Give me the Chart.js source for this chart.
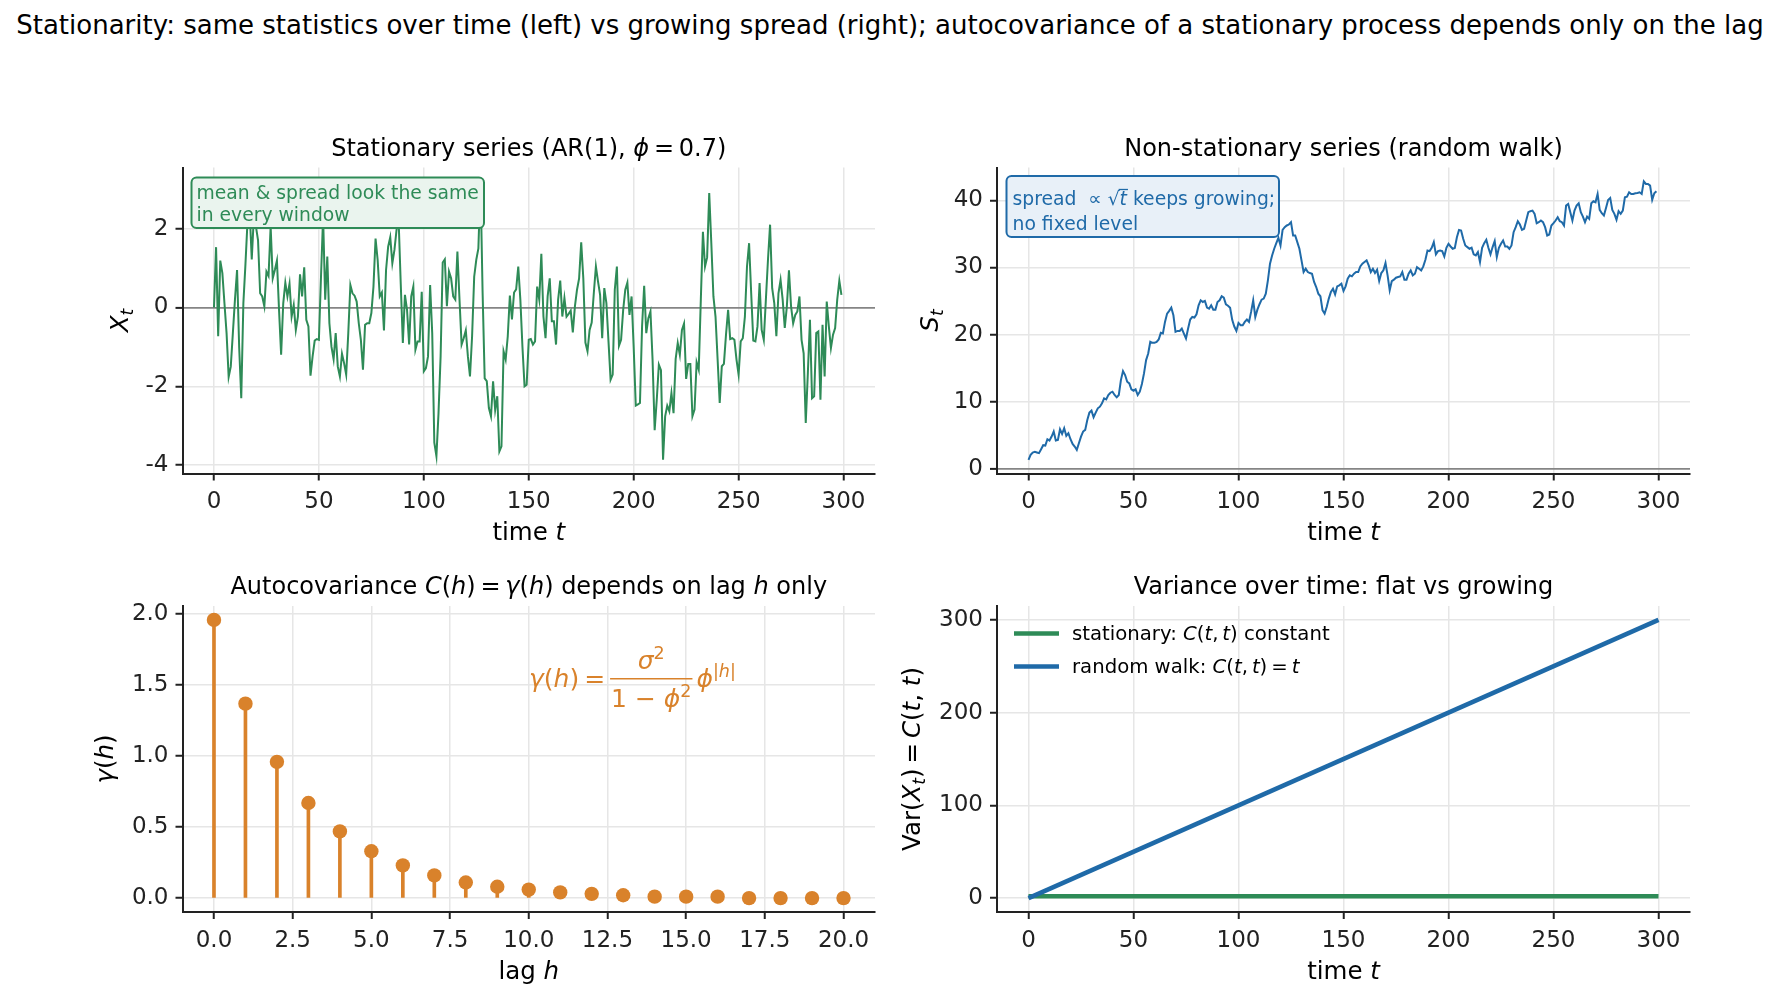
<!DOCTYPE html>
<html>
<head>
<meta charset="utf-8">
<script src="https://cdn.jsdelivr.net/npm/chart.js@4.4.1/dist/chart.umd.min.js"></script>
<style>
  html, body { margin: 0; padding: 0; background: #fff; }
  #fig { position: relative; width: 1780px; height: 1002px; overflow: hidden; background: #fff; }
  #fig canvas { position: absolute; left: 0; top: 0; }
  #suptitle { position: absolute; left: 0; top: 8px; width: 1780px; text-align: center;
              font: 26px "DejaVu Sans", sans-serif; line-height: 34px; color: #000; white-space: nowrap; }
</style>
</head>
<body>
<div id="fig">
  <div id="suptitle">Stationarity: same statistics over time (left) vs growing spread (right); autocovariance of a stationary process depends only on the lag</div>
  <canvas id="cAR" width="1780" height="1002"></canvas>
  <canvas id="cWalk" width="1780" height="1002"></canvas>
  <canvas id="cAcov" width="1780" height="1002"></canvas>
  <canvas id="cVar" width="1780" height="1002"></canvas>
</div>
<script>
// ---- data ----
// AR(1) series, t = 0..299
const arSeries = [
  0.0, 1.53, -0.73, 1.19, 0.87, 0.1, -0.65, -1.76, -1.5, -0.65,
  0.2, 0.95, -1.0, -2.3, 0.1, 1.1, 2.2, 2.45, 1.22, 2.3,
  2.05, 1.7, 0.36, 0.28, 0.03, 0.91, 0.8, 2.05, 0.74, 0.95,
  1.19, -0.06, -1.2, 0.1, 0.63, 0.28, 0.6, -0.23, 0.06, -0.57,
  -0.23, 0.84, 0.28, 1.02, -0.31, -0.48, -1.73, -1.24, -0.84, -0.8,
  -0.82, 0.78, 2.3, 0.2, 1.29, -0.4, -1.0, -1.31, -0.65, -1.5,
  -1.75, -1.17, -1.41, -1.7, -0.65, 0.57, 0.36, 0.3, 0.15, -0.4,
  -0.82, -1.58, -0.44, -0.4, -0.4, -0.14, 0.53, 1.75, 1.2, 0.28,
  0.38, -0.58, 0.95, 1.54, 1.78, 1.12, 1.46, 1.97, 2.2, 0.6,
  -0.9, 0.32, -0.06, -0.94, 0.28, 0.53, -1.07, -0.86, -0.86, 0.4,
  -1.62, -1.54, -1.24, 0.57, -0.65, -3.43, -3.77, -2.68, -1.24, 1.14,
  1.22, 0.03, 0.91, 0.74, 0.28, 0.2, 1.42, 0.2, -0.94, -0.78,
  -0.58, -1.24, -1.75, -0.73, 0.78, 1.21, 1.5, 3.2, 0.4, -1.8,
  -1.87, -2.55, -2.76, -1.87, -2.6, -2.25, -3.65, -3.52, -1.11, -1.32,
  -0.73, 0.3, -0.3, 0.38, 0.46, 1.04, 0.2, -1.0, -2.0, -1.96,
  -0.82, -0.8, -0.94, -0.86, 0.53, 0.2, 1.36, -0.23, -0.78, 0.28,
  0.74, -0.35, -0.35, -0.94, 0.2, 0.68, -0.23, 0.24, -0.23, -0.16,
  -0.08, -0.63, 0.03, 0.45, 0.74, 1.65, 0.74, -0.89, -1.11, -0.57,
  -0.38, 0.36, 1.04, 0.66, 0.32, -0.78, 0.49, 0.11, -0.86, -1.83,
  -1.7, 0.45, 1.04, -0.97, -0.82, -0.06, 0.45, 0.63, -0.19, 0.28,
  -1.0, -2.49, -2.46, -2.42, -0.48, 0.55, -0.65, -0.27, -0.1, -1.32,
  -3.11, -2.34, -1.45, -1.59, -3.86, -2.76, -2.49, -2.63, -2.17, -2.68,
  -1.31, -0.9, -1.2, -0.57, -0.41, -1.81, -1.43, -1.43, -2.76, -2.59,
  -1.39, -1.58, 0.2, 1.92, 1.04, 1.27, 2.9, 1.63, 0.28, -0.23,
  -1.32, -2.42, -1.49, -1.43, -0.69, -0.06, -0.8, -0.78, -0.82, -1.32,
  -1.7, -0.86, -0.78, -0.23, 1.04, 1.63, 0.36, -0.84, -0.86, -0.48,
  0.62, -0.57, -0.82, 0.2, 1.21, 2.1, 0.49, 0.11, -0.73, 0.36,
  0.7, 0.2, -0.52, 0.03, 0.94, 0.03, -0.4, -0.19, -0.1, 0.28,
  -0.82, -1.16, -2.93, -1.66, -0.31, -2.3, -2.25, -0.65, -0.61, -2.34,
  -0.44, -1.75, 0.15, -0.48, -1.03, -0.69, -0.52, 0.2, 0.68, 0.32
];

// random walk, t = 0..299
const walkSeries = [
  1.34, 2.08, 2.43, 2.53, 2.43, 2.33, 2.92, 3.52, 3.47, 4.41,
  4.21, 4.8, 5.55, 4.21, 4.31, 5.89, 5.2, 6.04, 4.9, 5.3,
  4.41, 3.71, 3.32, 2.82, 3.81, 4.8, 5.55, 5.8, 7.28, 8.37,
  8.67, 7.68, 8.37, 9.01, 9.26, 9.76, 10.5, 10.35, 11.0, 11.34,
  11.49, 11.0, 10.65, 11.0, 13.22, 14.56, 13.97, 12.98, 12.73, 11.84,
  11.64, 11.84, 11.0, 11.49, 12.63, 14.21, 16.2, 17.19, 18.92, 18.77,
  18.77, 18.92, 19.27, 20.26, 20.16, 21.89, 23.13, 23.53, 24.02, 22.88,
  20.41, 20.55, 20.55, 20.9, 20.16, 19.42, 20.9, 22.24, 22.63, 22.54,
  23.03, 24.37, 25.11, 24.86, 25.01, 24.02, 23.87, 24.37, 23.72, 23.72,
  24.86, 25.11, 25.71, 25.51, 24.5, 24.3, 24.0, 22.2, 21.2, 20.55,
  21.74, 21.4, 21.4, 21.89, 22.24, 21.89, 23.38, 25.11, 22.63, 23.72,
  24.52, 25.21, 25.36, 26.1, 28.08, 30.56, 31.8, 32.79, 33.63, 34.42,
  33.28, 35.61, 36.0, 36.26, 36.4, 36.75, 34.77, 34.77, 33.78, 32.79,
  31.05, 29.32, 29.82, 29.32, 29.17, 29.07, 27.84, 27.09, 26.1, 25.71,
  23.63, 23.13, 24.12, 25.36, 26.35, 26.84, 26.0, 27.19, 27.34, 27.59,
  26.5, 27.19, 28.33, 28.83, 28.68, 29.07, 29.32, 29.32, 30.16, 30.56,
  30.81, 31.05, 30.31, 29.32, 29.82, 29.17, 29.67, 27.98, 29.17, 29.57,
  30.66, 28.83, 26.6, 27.98, 28.18, 28.48, 28.58, 28.68, 29.32, 28.18,
  28.18, 29.07, 29.57, 28.83, 29.07, 30.06, 29.82, 29.57, 30.16, 31.15,
  32.54, 32.44, 32.94, 33.78, 31.95, 32.44, 32.54, 32.44, 31.65, 32.94,
  33.53, 33.13, 32.79, 32.9, 34.5, 35.6, 35.5, 34.27, 33.28, 33.04,
  32.79, 32.94, 31.95, 31.8, 32.29, 30.81, 32.94, 33.63, 34.13, 32.94,
  31.95, 33.04, 33.93, 31.55, 32.94, 33.53, 34.03, 33.13, 33.13, 32.79,
  33.28, 35.26, 36.01, 36.9, 36.4, 35.61, 35.76, 37.0, 38.24, 38.39,
  38.48, 37.99, 36.6, 36.75, 37.0, 36.75, 36.01, 34.77, 34.92, 36.26,
  36.6, 37.0, 37.49, 36.9, 36.75, 36.26, 39.23, 39.47, 38.24, 37.0,
  38.48, 39.23, 39.57, 38.24, 37.59, 36.75, 37.59, 37.25, 39.57, 39.87,
  39.72, 40.96, 38.58, 38.09, 37.74, 38.88, 40.07, 40.37, 38.58, 37.99,
  37.1, 38.39, 37.99, 38.48, 40.47, 40.56, 41.21, 40.96, 40.96, 41.06,
  41.11, 41.21, 40.96, 42.84, 42.45, 42.45, 42.2, 40.07, 41.06, 41.36
];

// autocovariance by lag
const lags = [0, 1, 2, 3, 4, 5, 6, 7, 8, 9, 10, 11, 12, 13, 14, 15, 16, 17, 18, 19, 20];
const gammaValues = [1.96, 1.37, 0.96, 0.67, 0.47, 0.33, 0.23, 0.16, 0.11, 0.08, 0.06,
                     0.04, 0.03, 0.02, 0.01, 0.01, 0.01, 0.00, 0.00, 0.00, 0.00];

// variance over time (end points of the two straight lines)
const varTimes = [0, 300];
const statVar = [1.96, 1.96];
const walkVar = [0, 300];

// tick steps
const timeStep = 50, arStep = 2, walkStep = 10, lagStep = 2.5, gammaStep = 0.5, varStep = 100;

// ---- styling ----
const FF = '"DejaVu Sans", "Liberation Sans", sans-serif';
const INK = '#222222';
const GRID = '#e6e6e6';
const ZERO = '#858585';
const GREEN = '#2e8b57';
const BLUE = '#1f6aa8';
const ORANGE = '#d9822b';
const FIG_W = 1780, FIG_H = 1002, Y_W = 110, X_H = 60;
const TH = '\u2009'; // thin space, mathtext-like spacing around "=" and after ","

Chart.defaults.font.family = FF;
Chart.defaults.color = INK;

// plot boxes in figure pixels
const boxTL = {l: 182.5, r: 875, t: 167.5, b: 473.5};
const boxTR = {l: 997, r: 1690, t: 167.5, b: 473.5};
const boxBL = {l: 182.5, r: 875, t: 606, b: 912};
const boxBR = {l: 997, r: 1690, t: 606, b: 912};

// ---- rich text helpers (mathtext-like italics / sub / sup) ----
function fnt(size, italic) { return (italic ? 'italic ' : '') + size + 'px ' + FF; }
const N = t => ({t: t, it: false, k: 1, dy: 0});
const I = t => ({t: t, it: true, k: 1, dy: 0});
const SUB = t => ({t: t, it: true, k: 0.7, dy: 0.22});
const SUP = (t, it) => ({t: t, it: !!it, k: 0.7, dy: -0.42});

function richWidth(ctx, parts, size) {
  let w = 0;
  parts.forEach(p => { ctx.font = fnt(size * p.k, p.it); w += ctx.measureText(p.t).width; });
  return w;
}

function drawRich(ctx, parts, x, y, size, color, align, rot) {
  ctx.save();
  ctx.translate(x, y);
  if (rot) ctx.rotate(rot);
  ctx.fillStyle = color;
  ctx.textBaseline = 'alphabetic';
  ctx.textAlign = 'left';
  const w = richWidth(ctx, parts, size);
  let cx = align === 'center' ? -w / 2 : (align === 'right' ? -w : 0);
  parts.forEach(p => {
    ctx.font = fnt(size * p.k, p.it);
    ctx.fillText(p.t, cx, p.dy * size);
    cx += ctx.measureText(p.t).width;
  });
  ctx.restore();
  return w;
}

function roundBox(ctx, x, y, w, h, r, fill, stroke) {
  ctx.save();
  ctx.beginPath();
  ctx.roundRect(x, y, w, h, r);
  ctx.fillStyle = fill;
  ctx.fill();
  ctx.lineWidth = 2;
  ctx.strokeStyle = stroke;
  ctx.stroke();
  ctx.restore();
}

// ---- shared axis / chart options ----
function axis(which, s) {
  const zeroLine = !!s.zeroLine;
  return {
    type: 'linear',
    min: s.min,
    max: s.max,
    offset: false,
    afterFit: which === 'x' ? (sc => { sc.height = X_H; }) : (sc => { sc.width = Y_W; }),
    border: {display: true, color: INK, width: 2},
    grid: {
      offset: false,
      color: c => (zeroLine && c.tick && c.tick.value === 0) ? ZERO : GRID,
      lineWidth: c => (zeroLine && c.tick && c.tick.value === 0) ? 1.8 : 1.5,
      drawTicks: true, tickColor: INK, tickLength: 7, tickWidth: 2
    },
    ticks: {
      stepSize: s.step, includeBounds: false, autoSkip: false, maxRotation: 0, minRotation: 0,
      padding: which === 'x' ? 8 : 7, color: INK, font: {size: 23, family: FF},
      callback: s.fmt || (v => String(v))
    }
  };
}

function options(box, xs, ys) {
  return {
    responsive: false,
    animation: false,
    devicePixelRatio: 1,
    layout: {padding: {left: box.l - Y_W, top: box.t, right: FIG_W - box.r, bottom: FIG_H - box.b - X_H}},
    plugins: {legend: {display: false}, tooltip: {enabled: false}, title: {display: false}},
    scales: {x: axis('x', xs), y: axis('y', ys)}
  };
}

function labels(title, xlab, ylab, ylabX, titleY, xlabY) {
  return {
    id: 'labels',
    afterDraw(chart) {
      const ctx = chart.ctx, a = chart.chartArea;
      const cx = (a.left + a.right) / 2, cy = (a.top + a.bottom) / 2;
      drawRich(ctx, title, cx, titleY, 24, '#000', 'center');
      drawRich(ctx, xlab, cx, xlabY, 24.5, '#000', 'center');
      drawRich(ctx, ylab, ylabX, cy, 24.5, '#000', 'center', -Math.PI / 2);
    }
  };
}

// ---- top-left: stationary AR(1) ----
new Chart(document.getElementById('cAR'), {
  type: 'line',
  data: {datasets: [{
    data: arSeries.map((v, i) => ({x: i, y: v})),
    borderColor: GREEN, borderWidth: 2, pointRadius: 0, tension: 0, fill: false
  }]},
  options: options(boxTL,
    {min: -15, max: 315, step: timeStep},
    {min: -4.21, max: 3.55, step: arStep, zeroLine: true}),
  plugins: [labels(
    [N('Stationary series (AR(1), '), I('ϕ'), N(TH + '=' + TH + '0.7)')],
    [N('time '), I('t')],
    [I('X'), SUB('t')], 128, 155.5, 540),
  {
    id: 'noteAR',
    afterDraw(chart) {
      const ctx = chart.ctx;
      roundBox(ctx, 191.5, 177.5, 292.5, 50.5, 5, '#eaf4ee', GREEN);
      drawRich(ctx, [N('mean & spread look the same')], 196.5, 198.5, 18.75, GREEN, 'left');
      drawRich(ctx, [N('in every window')], 196.5, 220.5, 18.75, GREEN, 'left');
    }
  }]
});

// ---- top-right: random walk ----
new Chart(document.getElementById('cWalk'), {
  type: 'line',
  data: {datasets: [{
    data: walkSeries.map((v, i) => ({x: i, y: v})),
    borderColor: BLUE, borderWidth: 2, pointRadius: 0, tension: 0, fill: false
  }]},
  options: options(boxTR,
    {min: -15, max: 315, step: timeStep},
    {min: -0.7, max: 44.9, step: walkStep, zeroLine: true}),
  plugins: [labels(
    [N('Non-stationary series (random walk)')],
    [N('time '), I('t')],
    [I('S'), SUB('t')], 937.5, 155.5, 540),
  {
    id: 'noteWalk',
    afterDraw(chart) {
      const ctx = chart.ctx, fs = 18.75;
      roundBox(ctx, 1006.5, 176, 272.5, 61, 5, '#e8f0f8', BLUE);
      const x0 = 1012.5, b1 = 204.5;
      const w1 = drawRich(ctx, [N('spread  ∝ √')], x0, b1, fs, BLUE, 'left');
      const wt = drawRich(ctx, [I('t')], x0 + w1, b1, fs, BLUE, 'left');
      drawRich(ctx, [N(' keeps growing;')], x0 + w1 + wt, b1, fs, BLUE, 'left');
      ctx.save();
      ctx.strokeStyle = BLUE; ctx.lineWidth = 1.3;
      ctx.beginPath();
      ctx.moveTo(x0 + w1 - 1, b1 - 0.8 * fs);
      ctx.lineTo(x0 + w1 + wt + 1, b1 - 0.8 * fs);
      ctx.stroke();
      ctx.restore();
      drawRich(ctx, [N('no fixed level')], x0, 229.5, fs, BLUE, 'left');
    }
  }]
});

// ---- bottom-left: autocovariance stems ----
new Chart(document.getElementById('cAcov'), {
  type: 'scatter',
  data: {datasets: [
    {
      type: 'scatter', order: 1,
      data: lags.map((h, i) => ({x: h, y: gammaValues[i]})),
      pointRadius: 7.2, pointBackgroundColor: ORANGE, pointBorderWidth: 0, showLine: false
    },
    {
      type: 'bar', order: 2,
      data: lags.map((h, i) => ({x: h, y: gammaValues[i]})),
      backgroundColor: ORANGE, borderWidth: 0, barThickness: 3, grouped: false
    }
  ]},
  options: options(boxBL,
    {min: -1, max: 21, step: lagStep, fmt: v => v.toFixed(1)},
    {min: -0.098, max: 2.058, step: gammaStep, fmt: v => v.toFixed(1)}),
  plugins: [labels(
    [N('Autocovariance '), I('C'), N('('), I('h'), N(')' + TH + '=' + TH), I('γ'), N('('), I('h'), N(') depends on lag '), I('h'), N(' only')],
    [N('lag '), I('h')],
    [I('γ'), N('('), I('h'), N(')')], 113, 593.5, 979),
  {
    id: 'formula',
    afterDraw(chart) {
      const ctx = chart.ctx, fs = 25, B = 687;
      let x = 529;
      x += drawRich(ctx, [I('γ'), N('('), I('h'), N(')' + TH + '=' + TH)], x, B, fs, ORANGE, 'left');
      const num = [I('σ'), SUP('2')], den = [N('1 − '), I('ϕ'), SUP('2')];
      const wn = richWidth(ctx, num, fs), wd = richWidth(ctx, den, fs);
      const fw = Math.max(wn, wd) + 2;
      drawRich(ctx, num, x + fw / 2, B - 18, fs, ORANGE, 'center');
      drawRich(ctx, den, x + fw / 2, B + 20, fs, ORANGE, 'center');
      ctx.save();
      ctx.fillStyle = ORANGE;
      ctx.fillRect(x, B - 9, fw, 1.5);
      ctx.restore();
      x += fw + 4;
      drawRich(ctx, [I('ϕ'), SUP('|h|', true)], x, B, fs, ORANGE, 'left');
    }
  }]
});

// ---- bottom-right: variance over time ----
new Chart(document.getElementById('cVar'), {
  type: 'line',
  data: {datasets: [
    {
      order: 2,
      data: varTimes.map((t, i) => ({x: t, y: statVar[i]})),
      borderColor: GREEN, borderWidth: 4.5, pointRadius: 0, tension: 0
    },
    {
      order: 1,
      data: varTimes.map((t, i) => ({x: t, y: walkVar[i]})),
      borderColor: BLUE, borderWidth: 4.5, pointRadius: 0, tension: 0
    }
  ]},
  options: options(boxBR,
    {min: -15, max: 315, step: timeStep},
    {min: -15, max: 315, step: varStep}),
  plugins: [labels(
    [N('Variance over time: flat vs growing')],
    [N('time '), I('t')],
    [N('Var('), I('X'), SUB('t'), N(')' + TH + '=' + TH), I('C'), N('('), I('t'), N(', '), I('t'), N(')')], 919.5, 593.5, 979),
  {
    id: 'legendVar',
    afterDraw(chart) {
      const ctx = chart.ctx, fs = 19.7;
      const rows = [
        {c: GREEN, y: 633.5, parts: [N('stationary: '), I('C'), N('('), I('t'), N(',' + TH), I('t'), N(') constant')]},
        {c: BLUE, y: 666.5, parts: [N('random walk: '), I('C'), N('('), I('t'), N(',' + TH), I('t'), N(')' + TH + '=' + TH), I('t')]}
      ];
      rows.forEach(r => {
        ctx.save();
        ctx.strokeStyle = r.c; ctx.lineWidth = 4.5;
        ctx.beginPath(); ctx.moveTo(1014, r.y); ctx.lineTo(1059, r.y); ctx.stroke();
        ctx.restore();
        drawRich(ctx, r.parts, 1072, r.y + 6.8, fs, '#000', 'left');
      });
    }
  }]
});
</script>
</body>
</html>
